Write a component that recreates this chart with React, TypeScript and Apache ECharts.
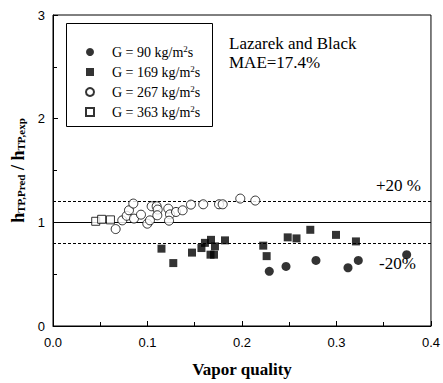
import React, { useEffect, useRef } from "react";
import * as echarts from "echarts";

const g90X = [0.2289, 0.2466, 0.2783, 0.3122, 0.3231, 0.3743];
const g90Y = [0.527, 0.575, 0.633, 0.562, 0.633, 0.688];

const g169X = [0.1148, 0.1273, 0.1471, 0.1571, 0.1608, 0.1672, 0.1714, 0.1667, 0.1704, 0.182, 0.2225, 0.2261, 0.2484, 0.2577, 0.2723, 0.2995, 0.3206];
const g169Y = [0.746, 0.607, 0.708, 0.752, 0.802, 0.831, 0.768, 0.688, 0.688, 0.826, 0.775, 0.674, 0.855, 0.845, 0.928, 0.879, 0.816];

const g267X = [0.0663, 0.0733, 0.078, 0.0804, 0.085, 0.0857, 0.0931, 0.0998, 0.1026, 0.1044, 0.1097, 0.1108, 0.1104, 0.122, 0.1238, 0.1228, 0.1302, 0.1372, 0.146, 0.159, 0.1757, 0.1796, 0.1982, 0.2141];
const g267Y = [0.935, 1.019, 1.063, 1.116, 1.181, 1.036, 1.074, 0.987, 1.019, 1.155, 1.155, 1.123, 1.068, 1.132, 1.077, 1.016, 1.1, 1.116, 1.171, 1.174, 1.174, 1.174, 1.229, 1.21];

const g363X = [0.0452, 0.0515, 0.0608];
const g363Y = [1.01, 1.029, 1.024];

const seriesNames = ["G = 90 kg/m{sup|2}s", "G = 169 kg/m{sup|2}s", "G = 267 kg/m{sup|2}s", "G = 363 kg/m{sup|2}s"];
const refLines = [1, 1.2, 0.8];
const xTicks = [0, 0.1, 0.2, 0.3, 0.4];

const zip = (xs: number[], ys: number[]) => xs.map((x, i) => [x, ys[i]]);

const serif = "Liberation Serif";
const sans = "Liberation Sans";

export default function App() {
  const ref = useRef<HTMLDivElement>(null);
  useEffect(() => {
    if (!ref.current) return;
    const chart = echarts.init(ref.current, undefined, { renderer: "svg" });
    chart.setOption({
      animation: false,
      backgroundColor: "#fff",
      grid: { left: 53, right: 12, top: 15, bottom: 57, show: true, borderColor: "#000", borderWidth: 1, backgroundColor: "transparent" },
      xAxis: {
        type: "value",
        min: xTicks[0],
        max: xTicks[xTicks.length - 1],
        interval: 0.1,
        name: "Vapor quality",
        nameLocation: "middle",
        nameGap: 35,
        nameTextStyle: { fontFamily: serif, fontWeight: "bold", fontSize: 17, color: "#000" },
        axisLine: { lineStyle: { color: "#000", width: 1 } },
        axisTick: { inside: true, length: 5, lineStyle: { color: "#000" } },
        minorTick: { show: true, splitNumber: 2, length: 4, lineStyle: { color: "#000" } },
        splitLine: { show: false },
        axisLabel: { fontFamily: sans, fontSize: 13, color: "#000", margin: 10, formatter: (v: number) => v.toFixed(1) },
      },
      yAxis: {
        type: "value",
        min: 0,
        max: 3,
        interval: 1,
        name: "{b|h}{s|TP,Pred}{b| / h}{s|TP,exp}",
        nameLocation: "middle",
        nameGap: 23,
        nameTextStyle: {
          color: "#000",
          rich: {
            b: { fontFamily: serif, fontWeight: "bold", fontSize: 18, color: "#000", lineHeight: 20, verticalAlign: "bottom" },
            s: { fontFamily: serif, fontWeight: "bold", fontSize: 11, color: "#000", lineHeight: 20, verticalAlign: "bottom", padding: [6, 0, 0, 0] },
          },
        },
        axisLine: { lineStyle: { color: "#000", width: 1 } },
        axisTick: { inside: true, length: 5, lineStyle: { color: "#000" } },
        minorTick: { show: true, splitNumber: 2, length: 4, lineStyle: { color: "#000" } },
        splitLine: { show: false },
        axisLabel: { fontFamily: sans, fontSize: 13, color: "#000", margin: 8 },
      },
      legend: {
        orient: "vertical",
        left: 85,
        top: 44,
        padding: 0,
        itemWidth: 8,
        itemHeight: 8,
        itemGap: 4,
        selectedMode: false,
        data: seriesNames,
        formatter: (n: string) => n,
        textStyle: {
          fontFamily: serif,
          fontSize: 14,
          color: "#000",
          lineHeight: 16,
          padding: [0, 0, 0, 13],
          rich: {
            sup: { fontFamily: serif, fontSize: 9, color: "#000", verticalAlign: "top", lineHeight: 16, padding: [0, 0, 6, 0] },
          },
        },
      },
      graphic: [
        { type: "rect", shape: { x: 66.5, y: 23.5, width: 146, height: 103 }, style: { fill: "none", stroke: "#000", lineWidth: 1 }, z: 10 },
        { type: "text", x: 229, y: 43, style: { text: "Lazarek and Black", fontFamily: serif, fontSize: 17, fill: "#000", verticalAlign: "middle" }, z: 10 },
        { type: "text", x: 229, y: 62, style: { text: "MAE=17.4%", fontFamily: serif, fontSize: 17, fill: "#000", verticalAlign: "middle" }, z: 10 },
        { type: "text", x: 376, y: 185, style: { text: "+20 %", fontFamily: serif, fontSize: 17, fill: "#000", verticalAlign: "middle" }, z: 10 },
        { type: "text", x: 379, y: 263, style: { text: "-20%", fontFamily: serif, fontSize: 17, fill: "#000", verticalAlign: "middle" }, z: 10 },
      ],
      series: [
        {
          name: seriesNames[0],
          type: "scatter",
          symbol: "circle",
          symbolSize: 9,
          itemStyle: { color: "#000" },
          data: zip(g90X, g90Y),
          markLine: {
            silent: true,
            symbol: "none",
            label: { show: false },
            z: 1,
            data: refLines.map((v, i) => ({
              yAxis: v,
              lineStyle: { color: "#000", width: 1, type: i === 0 ? "solid" : [3, 2] },
            })),
          },
        },
        {
          name: seriesNames[1],
          type: "scatter",
          symbol: "rect",
          symbolSize: 8,
          itemStyle: { color: "#000" },
          data: zip(g169X, g169Y),
        },
        {
          name: seriesNames[2],
          type: "scatter",
          symbol: "circle",
          symbolSize: 9,
          itemStyle: { color: "#fff", borderColor: "#000", borderWidth: 1 },
          data: zip(g267X, g267Y),
        },
        {
          name: seriesNames[3],
          type: "scatter",
          symbol: "rect",
          symbolSize: 8,
          itemStyle: { color: "#fff", borderColor: "#000", borderWidth: 1 },
          data: zip(g363X, g363Y),
        },
      ],
    });
    return () => chart.dispose();
  }, []);
  return <div ref={ref} style={{ width: 443, height: 383, position: "absolute", left: 0, top: 0 }} />;
}
